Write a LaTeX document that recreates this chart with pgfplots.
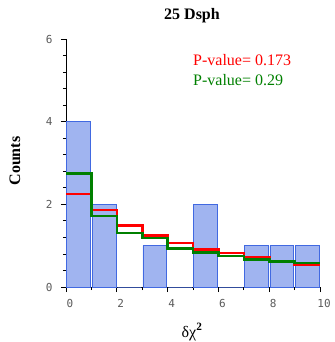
\documentclass[border=0pt]{standalone}
\usepackage{pgfplots}
\pgfplotsset{compat=1.18}
\usepackage{fontspec}
\setmainfont{Liberation Serif}
\newfontfamily\monofont{DejaVu Sans Mono}
\definecolor{barfill}{RGB}{160,180,240}
\definecolor{baredge}{RGB}{65,105,225}
\definecolor{tickgray}{RGB}{90,90,90}
\definecolor{pgreen}{RGB}{0,128,0}
\begin{document}
\begin{tikzpicture}
\begin{axis}[
  at={(0pt,0pt)}, anchor=origin,
  scale only axis, width=254pt, height=248pt,
  xmin=0, xmax=10, ymin=0, ymax=6,
  axis lines*=left,
  axis line style={line width=1pt},
  xtick={0,2,...,10}, minor xtick={1,3,...,9},
  ytick={0,2,4,6}, minor y tick num=4,
  tick align=outside,
  major tick length=5pt, minor tick length=3pt,
  tick style={black, line width=0.8pt},
  /pgf/number format/assume math mode=true,
  tick label style={font=\monofont\fontsize{11}{11}\selectfont, text=tickgray},
  xticklabel style={xshift=4pt, yshift=-4pt},
  yticklabel style={xshift=-5pt},
  clip=false,
]
\addplot[ybar, bar width=0.94, bar shift=0pt, fill=barfill, draw=baredge, line width=0.8pt]
  coordinates {(0.5,4) (1.5,2) (2.5,0) (3.5,1) (4.5,0) (5.5,2) (6.5,0) (7.5,1) (8.5,1) (9.5,1)};
\addplot[const plot, red, line width=2.6pt]
  coordinates {(0,2.25) (1,1.86) (2,1.49) (3,1.24) (4,1.06) (5,0.91) (6,0.82) (7,0.72) (8,0.62) (9,0.55) (10,0.55)};
\addplot[const plot, pgreen, line width=2.6pt]
  coordinates {(0,2.75) (1,1.72) (2,1.31) (3,1.19) (4,0.93) (5,0.83) (6,0.75) (7,0.67) (8,0.62) (9,0.58) (10,0.58)};
\end{axis}
\node[anchor=base, font=\bfseries\fontsize{16}{16}\selectfont] at (126pt,267.5pt) {25 Dsph};
\node[anchor=base west, inner sep=0pt, text=red, font=\fontsize{16}{16}\selectfont] at (127pt,221.5pt) {P-value= 0.173};
\node[anchor=base west, inner sep=0pt, text=pgreen, font=\fontsize{16}{16}\selectfont] at (127pt,201pt) {P-value= 0.29};
\node[rotate=90, font=\bfseries\fontsize{16}{16}\selectfont] at (-51pt,126pt) {Counts};
\node[anchor=base, font=\fontsize{16}{16}\selectfont] at (126pt,-50pt) {δχ\textsuperscript{\textbf{2}}};
\pgfresetboundingbox
\useasboundingbox (-66pt,-55pt) rectangle (268pt,287pt);
\end{tikzpicture}
\end{document}
